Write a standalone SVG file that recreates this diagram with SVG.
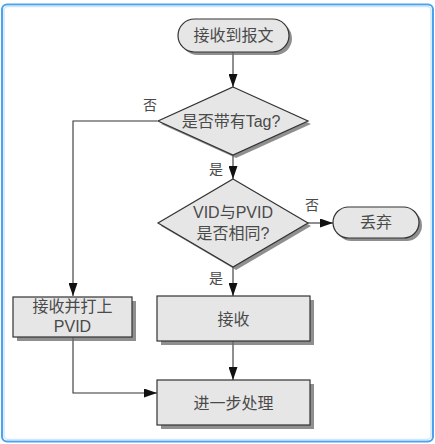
<svg xmlns="http://www.w3.org/2000/svg" width="435" height="444" viewBox="0 0 435 444">
<defs>
<style>
.shape{fill:#e6e6e6;stroke:#333;stroke-width:1.2}
.shadow{fill:#6a6a6a;opacity:0.75}
.t{font-family:"Liberation Sans","Noto Sans CJK SC",sans-serif;font-size:16px;fill:#4a4a4a;text-anchor:middle;dominant-baseline:central}
.lbl{font-family:"Noto Sans CJK SC",sans-serif;font-size:14px;fill:#4a4a4a;text-anchor:middle;dominant-baseline:central}
.c{fill:none;stroke:#333;stroke-width:1.1}
</style>
<marker id="arr" markerWidth="13" markerHeight="9" refX="13" refY="4.5" orient="auto" markerUnits="userSpaceOnUse" viewBox="0 0 13 9">
<path d="M0,0 L13,4.5 L0,9 Z" fill="#111"/>
</marker>
</defs>
<rect x="0" y="0" width="435" height="444" fill="#fff"/>
<rect x="2" y="4.5" width="431" height="437" rx="5" fill="#fff" stroke="#4aa3ee" stroke-width="2"/>
<rect x="4" y="6.5" width="427" height="433" rx="4" fill="none" stroke="#cfe6fb" stroke-width="1.5"/>

<g id="connectors">
<line class="c" x1="233" y1="52" x2="233" y2="87" marker-end="url(#arr)"/>
<polyline class="c" points="157,121 73,121 73,296" marker-end="url(#arr)"/>
<line class="c" x1="233" y1="155" x2="233" y2="179" marker-end="url(#arr)"/>
<line class="c" x1="308" y1="223" x2="333" y2="223" marker-end="url(#arr)"/>
<line class="c" x1="233" y1="267" x2="233" y2="296" marker-end="url(#arr)"/>
<line class="c" x1="233" y1="341" x2="233" y2="380" marker-end="url(#arr)"/>
<polyline class="c" points="73,337 73,393 157,393" marker-end="url(#arr)"/>
<text class="lbl" x="150" y="104">否</text>
<text class="lbl" x="216" y="168">是</text>
<text class="lbl" x="312" y="204">否</text>
<text class="lbl" x="216" y="277">是</text>
</g>

<g id="start">
<rect class="shadow" x="181" y="22" width="111" height="33" rx="16.5"/>
<rect class="shape" x="178" y="19" width="111" height="33" rx="16.5"/>
<text class="t" x="233.5" y="35.5">接收到报文</text>
</g>

<g id="hasTag">
<polygon class="shadow" points="236,90 311,124 236,158 161,124"/>
<polygon class="shape" points="233,87 308,121 233,155 158,121"/>
<text class="t" x="231" y="121">是否带有Tag?</text>
</g>

<g id="vidMatch">
<polygon class="shadow" points="236,182 311,226 236,270 161,226"/>
<polygon class="shape" points="233,179 308,223 233,267 158,223"/>
<text class="t" x="233" y="212">VID与PVID</text>
<text class="t" x="233" y="233">是否相同?</text>
</g>

<g id="discard">
<rect class="shadow" x="336" y="210" width="86" height="31" rx="15.5"/>
<rect class="shape" x="333" y="207" width="86" height="31" rx="15.5"/>
<text class="t" x="376" y="222.5">丢弃</text>
</g>

<g id="tagPvid">
<rect class="shadow" x="17" y="301" width="119" height="40"/>
<rect class="shape" x="13" y="297" width="119" height="40"/>
<text class="t" x="72.5" y="306">接收并打上</text>
<text class="t" x="72.5" y="326">PVID</text>
</g>

<g id="accept">
<rect class="shadow" x="161" y="300" width="153" height="45"/>
<rect class="shape" x="157" y="296" width="153" height="45"/>
<text class="t" x="233.5" y="319">接收</text>
</g>

<g id="process">
<rect class="shadow" x="161" y="384" width="153" height="45"/>
<rect class="shape" x="157" y="380" width="153" height="45"/>
<text class="t" x="233.5" y="403">进一步处理</text>
</g>
</svg>
